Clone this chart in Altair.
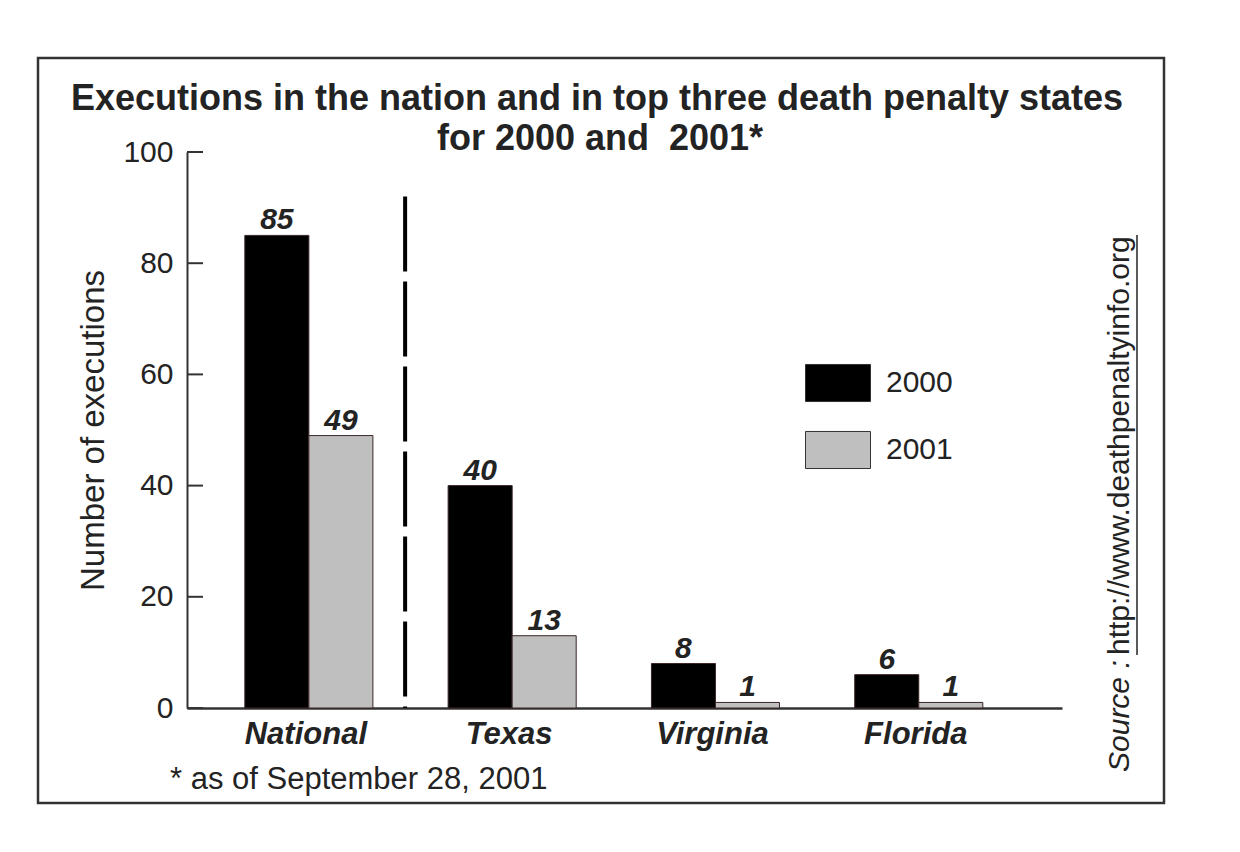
import altair as alt
import pandas as pd

# ---------------- data ----------------
categories = ["National", "Texas", "Virginia", "Florida"]
years = ["2000", "2001"]
values_2000 = [85, 40, 8, 6]
values_2001 = [49, 13, 1, 1]
y_ticks = [0, 20, 40, 60, 80, 100]
title_lines = ["Executions in the nation and in top three death penalty states",
               "for 2000 and \u00a02001*"]
y_title = "Number of executions"
footnote = "* as of September 28, 2001"
source_label = "Source :"
source_url = "http://www.deathpenaltyinfo.org"
divider_before = "Texas"
divider_top = 92

rows = []
for c, a, b in zip(categories, values_2000, values_2001):
    rows.append({"cat": c, "year": years[0], "value": a})
    rows.append({"cat": c, "year": years[1], "value": b})
df = pd.DataFrame(rows)

FONT = "Liberation Sans"
INK = "#232323"
W, H = 875, 556

yscale = alt.Scale(domain=[0, 100], nice=False, zero=True)
xscale = alt.Scale(domain=categories, paddingInner=0.37, paddingOuter=0.337, align=0.422)

x_axis = alt.Axis(title=None, labelFont=FONT, labelFontSize=31, labelFontWeight="bold",
                  labelFontStyle="italic", labelColor=INK, labelPadding=11, ticks=False,
                  domainColor="#333333", domainWidth=2.5, labelAngle=0, labelOffset=-3)
y_axis = alt.Axis(title=y_title, values=y_ticks, ticks=False, grid=False,
                  domainColor="#333333", domainWidth=2, labelFont=FONT, labelFontSize=30,
                  labelColor=INK, labelPadding=14, titleFont=FONT, titleFontSize=33,
                  titleFontWeight="normal", titleColor=INK, titleAngle=270, titleX=-84,
                  titleY=278, titleAlign="center", titleBaseline="alphabetic")

xoff = alt.XOffset("year:N", sort=years, scale=alt.Scale(paddingInner=0, paddingOuter=0))

legend = alt.Legend(orient="none", legendX=618, legendY=198, title=None,
                    symbolType="M-1,-0.57H1V0.57H-1Z", symbolSize=4225,
                    symbolStrokeColor="#333333", symbolStrokeWidth=1, symbolOpacity=1,
                    labelFont=FONT, labelFontSize=30, labelColor=INK, labelOffset=15,
                    rowPadding=13, padding=0)

bars = alt.Chart(df).mark_bar(stroke="#3b2626", strokeWidth=1).encode(
    x=alt.X("cat:N", sort=categories, scale=xscale, axis=x_axis),
    xOffset=xoff,
    y=alt.Y("value:Q", scale=yscale, axis=y_axis),
    color=alt.Color("year:N", sort=years,
                    scale=alt.Scale(domain=years, range=["#000000", "#bfbfbf"]),
                    legend=legend),
)

labels = alt.Chart(df).mark_text(font=FONT, fontSize=30, fontWeight="bold", fontStyle="italic",
                                 color=INK, baseline="alphabetic", dy=-6).encode(
    x=alt.X("cat:N", sort=categories, scale=xscale),
    xOffset=xoff,
    y=alt.Y("value:Q", scale=yscale),
    text="value:Q",
)

tick_df = pd.DataFrame({"value": y_ticks})
ticks = alt.Chart(tick_df).mark_rule(stroke="#333333", strokeWidth=2).encode(
    y=alt.Y("value:Q", scale=yscale), x=alt.value(0), x2=alt.value(16)
)

div_df = pd.DataFrame({"cat": [divider_before], "value": [divider_top], "bottom": [0]})
divider = alt.Chart(div_df).mark_rule(stroke="#000000", strokeWidth=4, strokeDash=[75, 10],
                                      xOffset=-43).encode(
    x=alt.X("cat:N", sort=categories, scale=xscale, bandPosition=0),
    y=alt.Y("value:Q", scale=yscale),
    y2="bottom:Q",
)


def text_layer(txt, x, y, **kw):
    return alt.Chart(pd.DataFrame({"t": [txt]})).mark_text(font=FONT, color=INK, **kw).encode(
        x=alt.value(x), y=alt.value(y), text="t:N")


title1 = text_layer(title_lines[0], 410, -42, fontSize=36, fontWeight="bold", align="center",
                    baseline="alphabetic")
title2 = text_layer(title_lines[1], 413, -2, fontSize=36, fontWeight="bold", align="center",
                    baseline="alphabetic")
foot = text_layer(footnote, -17, 637, fontSize=31, align="left", baseline="alphabetic")
src1 = text_layer(source_label, 942, 620, fontSize=30, fontStyle="italic", angle=270,
                  align="left", baseline="alphabetic")
src2 = text_layer(source_url, 942, 503, fontSize=30, angle=270, align="left",
                  baseline="alphabetic")
underline = alt.Chart(pd.DataFrame({"t": [source_url]})).mark_rule(
    stroke=INK, strokeWidth=1.5).encode(x=alt.value(950), y=alt.value(83), y2=alt.value(503))

frame = alt.Chart(pd.DataFrame({"t": ["frame"]})).mark_rect(
    fillOpacity=0, stroke="#333333", strokeWidth=2.5).encode(
    x=alt.value(-149), x2=alt.value(977), y=alt.value(-94), y2=alt.value(651))

chart = alt.layer(frame, bars, ticks, divider, labels, title1, title2, foot, src1, src2,
                  underline).properties(
    width=W, height=H,
    padding={"left": 179, "top": 144, "right": 170, "bottom": 136},
    autosize=alt.AutoSizeParams(type="none"),
    background="white",
).configure_view(stroke=None)

chart.save("out.html", embed_options={"renderer": "svg", "actions": False})
